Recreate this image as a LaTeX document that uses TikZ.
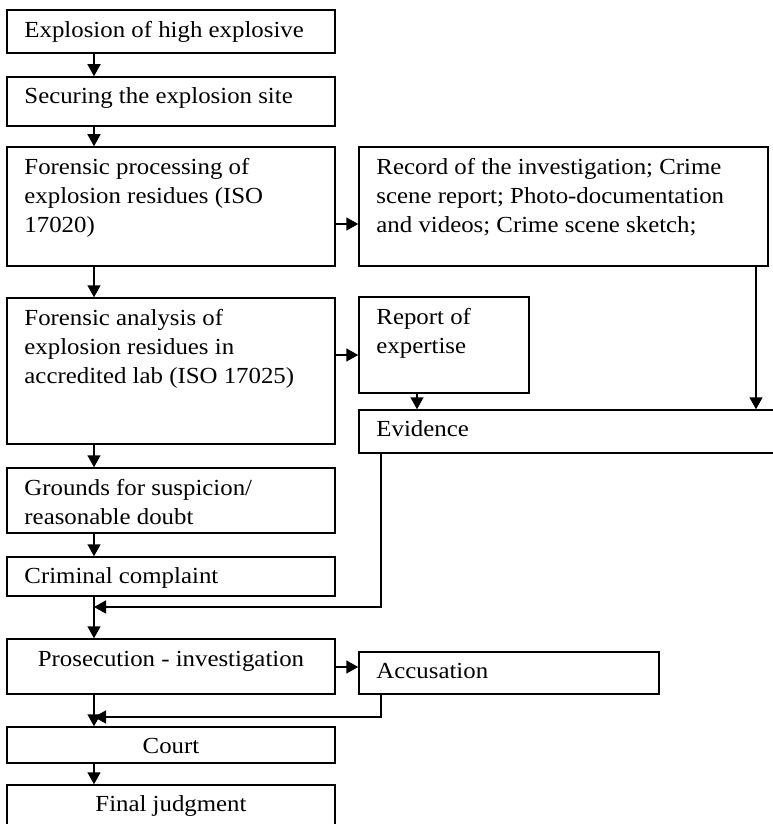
\documentclass[tikz,border=0pt]{standalone}
\usepackage{fontspec}
\setmainfont{Liberation Serif}[FakeStretch=1.08]
\usetikzlibrary{arrows.meta,fit,calc}
\newcommand\figfont{\fontsize{23}{29}\selectfont}
\tikzset{
  boxx/.style={draw, line width=1.5pt, inner sep=0pt},
  txt/.style={anchor=north west, inner sep=0pt, align=left, font=\figfont},
  ctxt/.style={anchor=north, inner sep=0pt, align=center, font=\figfont},
  arr/.style={line width=1.6pt, -{Triangle[length=12pt,width=13pt]}},
}
\begin{document}
\begin{tikzpicture}[x=1pt,y=-1pt]
\useasboundingbox (0,0) rectangle (773,824);
% left column
\node[boxx, fit={(7,10)(335,53)}] (b1) {};
\node[boxx, fit={(7,77)(335,126)}] (b2) {};
\node[boxx, fit={(7,147)(335,266)}] (b3) {};
\node[boxx, fit={(7,298)(335,444)}] (b4) {};
\node[boxx, fit={(7,468)(335,533)}] (b5) {};
\node[boxx, fit={(7,557)(335,596)}] (b6) {};
\node[boxx, fit={(7,639)(335,694)}] (b7) {};
\node[boxx, fit={(7,727)(335,763)}] (b8) {};
\node[boxx, fit={(7,785)(335,840)}] (b9) {};
% right column
\node[boxx, fit={(359,147)(768,266)}] (r1) {};
\node[boxx, fit={(359,297)(529,393)}] (r2) {};
\node[boxx, fit={(359,410)(800,453)}] (ev) {};
\node[boxx, fit={(359,652)(659,694)}] (ac) {};
% texts
\node[txt] (t1) at ($(b1.north west)+(18,11.5)$) {Explosion of high explosive};
\node[txt] (t2) at ($(b2.north west)+(18,11.5)$) {Securing the explosion site};
\node[txt] (t3) at ($(b3.north west)+(18,12)$) {Forensic processing of\\explosion residues (ISO\\17020)};
\node[txt] (t4) at ($(b4.north west)+(18,11.5)$) {Forensic analysis of\\explosion residues in\\accredited lab (ISO 17025)};
\node[txt] (t5) at ($(b5.north west)+(18,11.5)$) {Grounds for suspicion/\\reasonable doubt};
\node[txt] (t6) at ($(b6.north west)+(18,11.5)$) {Criminal complaint};
\node[ctxt] (t7) at ($(b7.north)+(0,13)$) {Prosecution - investigation};
\node[ctxt] (t8) at ($(b8.north)+(0,11.5)$) {Court};
\node[ctxt] (t9) at ($(b9.north)+(0,11.5)$) {Final judgment};
\node[txt] (tr1) at ($(r1.north west)+(18,12)$) {Record of the investigation; Crime\\scene report; Photo-documentation\\and videos; Crime scene sketch;};
\node[txt] (tr2) at ($(r2.north west)+(18,12)$) {Report of\\expertise};
\node[txt] (tev) at ($(ev.north west)+(18,11.5)$) {Evidence};
\node[txt] (tac) at ($(ac.north west)+(18,11.5)$) {Accusation};
% helper coordinates
\coordinate (cx) at (94,0);
\coordinate (ex) at (381,0);
\coordinate (j1) at (94,607);
\coordinate (j2) at (94,717);
\coordinate (ya) at (0,224);
\coordinate (yb) at (0,355);
\coordinate (yc) at (0,667);
\coordinate (rx) at (756,0);
\coordinate (r2x) at (417,0);
% vertical flow
\draw[arr] (b1.south -| cx) -- (b2.north -| cx);
\draw[arr] (b2.south -| cx) -- (b3.north -| cx);
\draw[arr] (b3.south -| cx) -- (b4.north -| cx);
\draw[arr] (b4.south -| cx) -- (b5.north -| cx);
\draw[arr] (b5.south -| cx) -- (b6.north -| cx);
\draw[arr] (b6.south -| cx) -- (b7.north -| cx);
\draw[arr] (b7.south -| cx) -- (b8.north -| cx);
\draw[arr] (b8.south -| cx) -- (b9.north -| cx);
% side arrows
\draw[arr] (b3.east |- ya) -- (r1.west |- ya);
\draw[arr] (b4.east |- yb) -- (r2.west |- yb);
\draw[arr] (b7.east |- yc) -- (ac.west |- yc);
\draw[arr] (r1.south -| rx) -- (ev.north -| rx);
\draw[arr] (r2.south -| r2x) -- (ev.north -| r2x);
\draw[arr] (ev.south -| ex) |- (j1);
\draw[arr] (ac.south -| ex) |- (j2);
\end{tikzpicture}
\end{document}
